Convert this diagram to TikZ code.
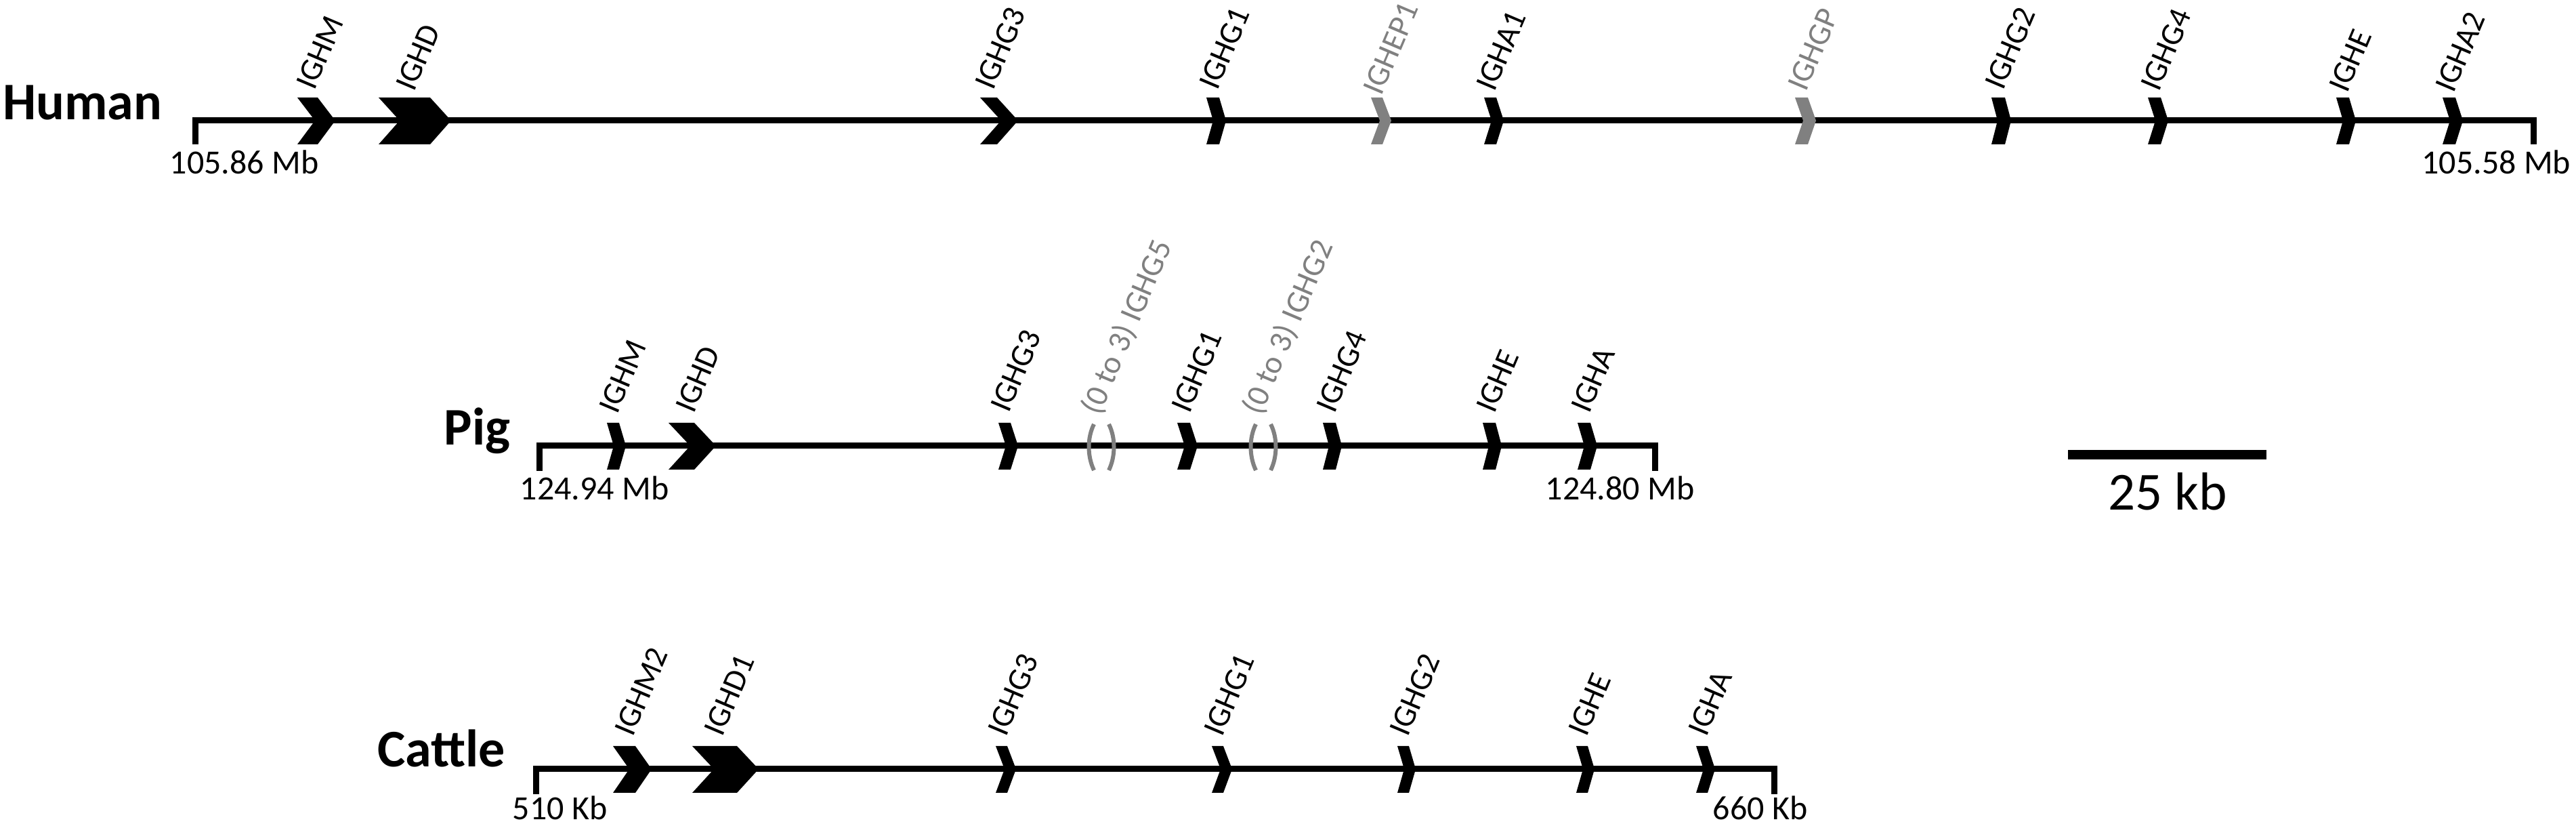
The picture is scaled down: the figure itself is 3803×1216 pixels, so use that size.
\documentclass[tikz,border=0pt]{standalone}
\usepackage{fontspec}
\setmainfont{Carlito}
\definecolor{pseudo}{RGB}{128,128,128}
\newcommand\genechev[5]{% #1 xL, #2 xR, #3 xTip, #4 y-mid, #5 colour
  \fill[#5] (#1,#4-34) -- (#2,#4-34) -- (#3,#4) -- (#2,#4+35) -- (#1,#4+35) -- (#1+#3-#2,#4) -- cycle;}
\newcommand\lensmark[2]{% #1 x-centre, #2 y-mid
  \draw[pseudo, line width=1.5pt] (#1-11,#2-32) .. controls (#1-21,#2-12) and (#1-21,#2+15) .. (#1-11,#2+36);
  \draw[pseudo, line width=1.5pt] (#1+11,#2-32) .. controls (#1+21,#2-12) and (#1+21,#2+15) .. (#1+11,#2+36);}
\begin{document}
\begin{tikzpicture}[x=0.25pt,y=-0.25pt,
  track/.style={line width=2.25pt, line join=miter, line cap=butt},
  genelab/.style={rotate=67, anchor=south west, inner sep=0pt, font=\fontsize{11.8}{13}\selectfont},
  pseudolab/.style={genelab, text=pseudo},
  species/.style={anchor=base east, inner sep=0pt, font=\fontsize{19.5}{22}\selectfont\bfseries},
  coordlab/.style={anchor=base west, inner sep=0pt, font=\fontsize{12.5}{14}\selectfont}]
\useasboundingbox (0,0) rectangle (3803,1216);

% ---------------- Human ----------------
\node[species] (human) at (240,177) {Human};
\draw[track] (288,213) -- (288,178) -- (3740,178) -- (3740,213);
\genechev{439}{469}{495}{178}{black}
\genechev{559}{635}{666}{178}{black}
\genechev{1447}{1472}{1503}{178}{black}
\genechev{1781}{1800}{1810}{178}{black}
\genechev{2024}{2041}{2054}{178}{pseudo}
\genechev{2191}{2209}{2220}{178}{black}
\genechev{2650}{2669}{2681}{178}{pseudo}
\genechev{2940}{2960}{2969}{178}{black}
\genechev{3171}{3190}{3201}{178}{black}
\genechev{3449}{3468}{3478}{178}{black}
\genechev{3606}{3625}{3636}{178}{black}
\node[genelab] (hM) at (465,136) {IGHM};
\node[genelab] (hD) at (612,138) {IGHD};
\node[genelab] (hG3) at (1467,136) {IGHG3};
\node[genelab] (hG1) at (1798,136) {IGHG1};
\node[pseudolab] (hEP1) at (2040,144) {IGHEP1};
\node[genelab] (hA1) at (2207,138) {IGHA1};
\node[pseudolab] (hGP) at (2667,138) {IGHGP};
\node[genelab] (hG2) at (2958,136) {IGHG2};
\node[genelab] (hG4) at (3188,138) {IGHG4};
\node[genelab] (hE) at (3466,140) {IGHE};
\node[genelab] (hA2) at (3623,140) {IGHA2};
\node[coordlab] (hstart) at (250,257) {105.86 Mb};
\node[coordlab, anchor=base east] (hend) at (3796,257) {105.58 Mb};

% ---------------- Pig ----------------
\node[species] (pig) at (754,657) {Pig};
\draw[track] (796,695) -- (796,658) -- (2443,658) -- (2443,695);
\genechev{896}{914}{924}{658}{black}
\genechev{987}{1025}{1057}{658}{black}
\genechev{1474}{1492}{1503}{658}{black}
\genechev{1738}{1757}{1768}{658}{black}
\genechev{1953}{1972}{1981}{658}{black}
\genechev{2189}{2208}{2217}{658}{black}
\genechev{2329}{2348}{2358}{658}{black}
\lensmark{1626}{658}
\lensmark{1865}{658}
\node[genelab] (pM) at (912,614) {IGHM};
\node[genelab] (pD) at (1025,613) {IGHD};
\node[genelab] (pG3) at (1490,612) {IGHG3};
\node[pseudolab] (pG5) at (1630,618) {(0 to 3) IGHG5};
\node[genelab] (pG1) at (1757,613) {IGHG1};
\node[pseudolab] (pG2) at (1868,618) {(0 to 3) IGHG2};
\node[genelab] (pG4) at (1971,613) {IGHG4};
\node[genelab] (pE) at (2207,613) {IGHE};
\node[genelab] (pA) at (2347,613) {IGHA};
\node[coordlab] (pstart) at (767,738) {124.94 Mb};
\node[coordlab] (pend) at (2281,738) {124.80 Mb};

% ---------------- Cattle ----------------
\node[species] (cattle) at (747,1132) {Cattle};
\draw[track] (791,1172) -- (791,1135) -- (2619,1135) -- (2619,1172);
\genechev{905}{938}{962}{1135}{black}
\genechev{1022}{1088}{1120}{1135}{black}
\genechev{1470}{1487}{1500}{1135}{black}
\genechev{1789}{1806}{1819}{1135}{black}
\genechev{2063}{2080}{2090}{1135}{black}
\genechev{2327}{2344}{2354}{1135}{black}
\genechev{2504}{2521}{2532}{1135}{black}
\node[genelab] (cM2) at (935,1090) {IGHM2};
\node[genelab] (cD1) at (1067,1090) {IGHD1};
\node[genelab] (cG3) at (1486,1090) {IGHG3};
\node[genelab] (cG1) at (1805,1090) {IGHG1};
\node[genelab] (cG2) at (2079,1090) {IGHG2};
\node[genelab] (cE) at (2343,1090) {IGHE};
\node[genelab] (cA) at (2520,1090) {IGHA};
\node[coordlab] (cstart) at (756,1210) {510 Kb};
\node[coordlab] (cend) at (2528,1210) {660 Kb};

% ---------------- Scale bar ----------------
\fill (3053,664) rectangle (3346,678);
\node[anchor=base, inner sep=0pt, font=\fontsize{19.75}{22}\selectfont] (scale) at (3200,753) {25 kb};
\end{tikzpicture}
\end{document}
